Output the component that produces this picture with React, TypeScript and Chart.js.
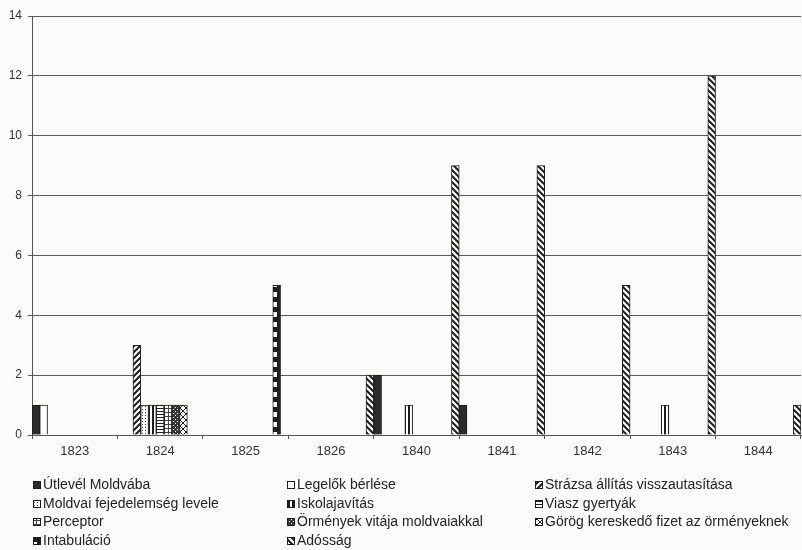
import { useEffect, useRef } from 'react';
import { Chart, registerables } from 'chart.js';

Chart.register(...registerables);

const categories = ['1823', '1824', '1825', '1826', '1840', '1841', '1842', '1843', '1844'];

const seriesNames = [
  'Útlevél Moldvába',
  'Legelők bérlése',
  'Strázsa állítás visszautasítása',
  'Moldvai fejedelemség levele',
  'Iskolajavítás',
  'Viasz gyertyák',
  'Perceptor',
  'Örmények vitája moldvaiakkal',
  'Görög kereskedő fizet az örményeknek',
  'Intabuláció',
  'Adósság',
];

const utlevel = [1, null, null, null, 2, 1, null, null, null];
const legelok = [1, null, null, null, null, null, null, null, null];
const strazsa = [null, 3, null, null, null, null, null, null, null];
const moldvai = [null, 1, null, null, null, null, null, null, null];
const iskola = [null, 1, null, null, 1, null, null, 1, null];
const viasz = [null, 1, null, null, null, null, null, null, null];
const perceptor = [null, 1, null, null, null, null, null, null, null];
const ormenyek = [null, 1, null, null, null, null, null, null, null];
const gorog = [null, 1, null, null, null, null, null, null, null];
const intabulacio = [null, null, 5, null, null, null, null, null, null];
const adossag = [null, null, null, 2, 9, 9, 5, 12, 1];

const seriesValues = [utlevel, legelok, strazsa, moldvai, iskola, viasz, perceptor, ormenyek, gorog, intabulacio, adossag];

const yTicks = [0, 2, 4, 6, 8, 10, 12, 14];

const INK = '#1e1e1e';

function makePattern(w: number, h: number, draw: (ctx: CanvasRenderingContext2D) => void): CanvasPattern | string {
  const c = document.createElement('canvas');
  c.width = w;
  c.height = h;
  const ctx = c.getContext('2d');
  if (!ctx) return '#888';
  draw(ctx);
  return ctx.createPattern(c, 'repeat') || '#888';
}

function buildFills(): (CanvasPattern | string)[] {
  const white = '#ffffff';
  return [
    '#2b2b2b',
    white,
    makePattern(6, 6, (ctx) => {
      ctx.fillStyle = white; ctx.fillRect(0, 0, 6, 6);
      ctx.strokeStyle = INK; ctx.lineWidth = 2;
      ctx.beginPath();
      ctx.moveTo(-1, 7); ctx.lineTo(7, -1);
      ctx.moveTo(-4, 4); ctx.lineTo(4, -4);
      ctx.moveTo(2, 10); ctx.lineTo(10, 2);
      ctx.stroke();
    }),
    makePattern(3, 3, (ctx) => {
      ctx.fillStyle = white; ctx.fillRect(0, 0, 3, 3);
      ctx.fillStyle = '#555'; ctx.fillRect(1, 1, 1, 1);
    }),
    makePattern(4, 4, (ctx) => {
      ctx.fillStyle = white; ctx.fillRect(0, 0, 4, 4);
      ctx.fillStyle = INK; ctx.fillRect(0, 0, 2, 4);
    }),
    makePattern(3, 3, (ctx) => {
      ctx.fillStyle = white; ctx.fillRect(0, 0, 3, 3);
      ctx.fillStyle = INK; ctx.fillRect(0, 0, 3, 1);
    }),
    makePattern(4, 4, (ctx) => {
      ctx.fillStyle = white; ctx.fillRect(0, 0, 4, 4);
      ctx.fillStyle = '#444'; ctx.fillRect(0, 0, 4, 1); ctx.fillRect(0, 0, 1, 4);
    }),
    makePattern(4, 4, (ctx) => {
      ctx.fillStyle = '#3a3a3a'; ctx.fillRect(0, 0, 4, 4);
      ctx.fillStyle = white; ctx.fillRect(1, 1, 1, 1); ctx.fillRect(3, 3, 1, 1);
    }),
    makePattern(6, 6, (ctx) => {
      ctx.fillStyle = white; ctx.fillRect(0, 0, 6, 6);
      ctx.strokeStyle = INK; ctx.lineWidth = 1;
      ctx.beginPath();
      ctx.moveTo(0, 0); ctx.lineTo(6, 6);
      ctx.moveTo(6, 0); ctx.lineTo(0, 6);
      ctx.stroke();
    }),
    makePattern(10, 10, (ctx) => {
      ctx.fillStyle = INK; ctx.fillRect(0, 0, 10, 10);
      ctx.fillStyle = white; ctx.fillRect(2, 2, 5, 5);
    }),
    makePattern(6, 6, (ctx) => {
      ctx.fillStyle = white; ctx.fillRect(0, 0, 6, 6);
      ctx.strokeStyle = INK; ctx.lineWidth = 2;
      ctx.beginPath();
      ctx.moveTo(-1, -1); ctx.lineTo(7, 7);
      ctx.moveTo(-4, 2); ctx.lineTo(4, 10);
      ctx.moveTo(2, -4); ctx.lineTo(10, 4);
      ctx.stroke();
    }),
  ];
}

const legendCols = [33, 287, 535];
const legendRows = [485, 504, 522, 541];

const legendPlugin = {
  id: 'gridLegend',
  afterDraw(chart: any) {
    const ctx: CanvasRenderingContext2D = chart.ctx;
    ctx.save();
    ctx.font = '14px "Liberation Sans", Arial, sans-serif';
    ctx.textBaseline = 'middle';
    ctx.textAlign = 'left';
    chart.data.datasets.forEach((ds: any, i: number) => {
      const col = i % 3;
      const row = Math.floor(i / 3);
      const x = legendCols[col];
      const y = legendRows[row];
      ctx.fillStyle = ds.backgroundColor;
      ctx.fillRect(x, y - 4, 8, 8);
      ctx.strokeStyle = INK;
      ctx.lineWidth = 1;
      ctx.strokeRect(x + 0.5, y - 3.5, 7, 7);
      ctx.fillStyle = '#222';
      ctx.fillText(ds.label, x + 10, y + 0.5);
    });
    ctx.restore();
  },
};

const bgPlugin = {
  id: 'bg',
  beforeDraw(chart: any) {
    const ctx: CanvasRenderingContext2D = chart.ctx;
    ctx.save();
    ctx.fillStyle = '#fbfbf9';
    ctx.fillRect(0, 0, chart.width, chart.height);
    ctx.restore();
  },
};

export default function App() {
  const ref = useRef<HTMLCanvasElement | null>(null);

  useEffect(() => {
    document.body.style.margin = '0';
    if (!ref.current) return;
    const fills = buildFills();
    const chart = new Chart(ref.current, {
      type: 'bar',
      data: {
        labels: categories,
        datasets: seriesNames.map((name, i) => ({
          label: name,
          data: seriesValues[i],
          backgroundColor: fills[i],
          borderColor: INK,
          borderWidth: 1,
          categoryPercentage: 1,
          barPercentage: 1,
        })),
      },
      options: {
        responsive: false,
        animation: false,
        layout: { padding: { top: 16, right: 1, left: 0, bottom: 0 } },
        plugins: {
          legend: { display: false },
          tooltip: { enabled: false },
        },
        scales: {
          x: {
            grid: {
              display: true,
              drawOnChartArea: false,
              drawTicks: true,
              tickLength: 4,
              color: '#555',
              offset: true,
            },
            border: { display: true, color: '#555', width: 1 },
            ticks: {
              color: '#333',
              font: { family: '"Liberation Sans", Arial, sans-serif', size: 13 },
              padding: 5,
              maxRotation: 0,
            },
            afterFit(scale: any) {
              scale.height = 115;
            },
          },
          y: {
            min: 0,
            max: 14,
            afterBuildTicks(scale: any) {
              scale.ticks = yTicks.map((v) => ({ value: v }));
            },
            grid: {
              color: '#5a5a5a',
              lineWidth: 1,
              drawTicks: true,
              tickLength: 4,
            },
            border: { display: true, color: '#555', width: 1 },
            ticks: {
              color: '#333',
              font: { family: '"Liberation Sans", Arial, sans-serif', size: 12 },
              padding: 6,
            },
            afterFit(scale: any) {
              scale.width = 32;
            },
          },
        },
      },
      plugins: [bgPlugin, legendPlugin],
    });
    return () => chart.destroy();
  }, []);

  return (
    <div style={{ width: 802, height: 550 }}>
      <canvas ref={ref} width={802} height={550} style={{ display: 'block' }} />
    </div>
  );
}
